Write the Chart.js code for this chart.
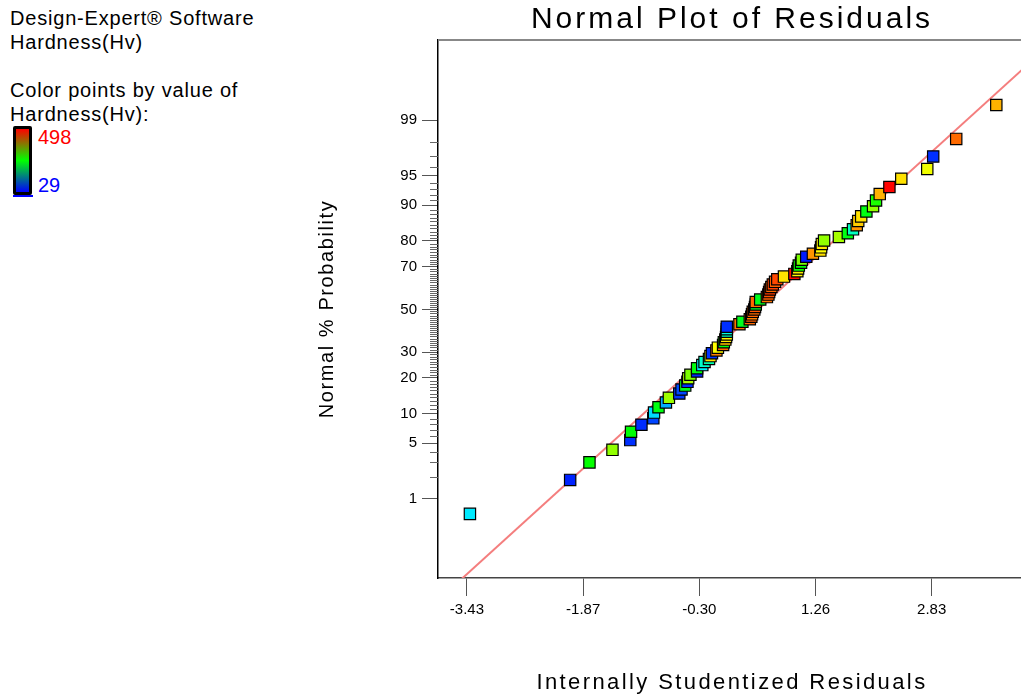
<!DOCTYPE html>
<html>
<head>
<meta charset="utf-8">
<title>Normal Plot of Residuals</title>
<script src="https://cdn.jsdelivr.net/npm/chart.js"></script>
<style>
  body { margin: 0; background: #fff; overflow: hidden; width: 1021px; height: 694px; position: relative; }
  #chart { position: absolute; left: 0; top: 0; }
  .info { position: absolute; left: 10px; top: 6px; font: 20px "Liberation Sans", Arial, sans-serif; line-height: 24px; letter-spacing: 0.8px; color: #000; }
  .bar { position: absolute; left: 13px; top: 126px; width: 13px; height: 63px; border: 3px solid #000; border-radius: 2px;
         background: linear-gradient(to bottom, #ff0000, #00ff00, #0000ff); }
  .barline { position: absolute; left: 13px; top: 195px; width: 20px; height: 2px; background: #0000ff; }
  .hi, .lo { position: absolute; left: 38px; font: 20px "Liberation Sans", Arial, sans-serif; line-height: 20px; }
  .hi { top: 127px; color: #ff0000; }
  .lo { top: 175px; color: #0000ff; }
</style>
</head>
<body>
<div class="info">Design-Expert® Software<br>Hardness(Hv)<br><br>Color points by value of<br>Hardness(Hv):</div>
<div class="bar"></div>
<div class="barline"></div>
<div class="hi">498</div>
<div class="lo">29</div>
<canvas id="chart" width="1040" height="694"></canvas>
<script>
// internally studentized residuals, sorted
const residuals = [
  -3.39, -2.04, -1.78, -1.47, -1.23, -1.22, -1.08, -0.92, -0.91, -0.85,
  -0.75, -0.71, -0.57, -0.54, -0.49, -0.46, -0.45, -0.42, -0.33, -0.33,
  -0.26, -0.23, -0.17, -0.15, -0.13, -0.07, -0.05, 0.02, 0.03, 0.05,
  0.06, 0.07, 0.07, 0.07, 0.07, 0.24, 0.28, 0.38, 0.40, 0.41,
  0.42, 0.44, 0.45, 0.46, 0.46, 0.52, 0.61, 0.63, 0.64, 0.65,
  0.67, 0.69, 0.72, 0.75, 0.84, 0.98, 1.02, 1.03, 1.04, 1.07,
  1.08, 1.14, 1.23, 1.33, 1.34, 1.35, 1.38, 1.58, 1.70, 1.77,
  1.82, 1.84, 1.88, 1.95, 2.04, 2.08, 2.13, 2.26, 2.42, 2.77,
  2.85, 3.16, 3.70
];
// normal % probability of each residual
const probability = [
  0.60, 1.81, 3.01, 4.22, 5.42, 6.63, 7.83, 9.04, 10.24, 11.45,
  12.65, 13.86, 15.06, 16.27, 17.47, 18.67, 19.88, 21.08, 22.29, 23.49,
  24.70, 25.90, 27.11, 28.31, 29.52, 30.72, 31.93, 33.13, 34.34, 35.54,
  36.75, 37.95, 39.16, 40.36, 41.57, 42.77, 43.98, 45.18, 46.39, 47.59,
  48.80, 50.00, 51.20, 52.41, 53.61, 54.82, 56.02, 57.23, 58.43, 59.64,
  60.84, 62.05, 63.25, 64.46, 65.66, 66.87, 68.07, 69.28, 70.48, 71.69,
  72.89, 74.10, 75.30, 76.51, 77.71, 78.92, 80.12, 81.33, 82.53, 83.73,
  84.94, 86.14, 87.35, 88.55, 89.76, 90.96, 92.17, 93.37, 94.58, 95.78,
  96.99, 98.19, 99.40
];
// hardness (Hv) of each run, used for the point colour
const hardness = [
  136, 45, 265, 330, 50, 262, 48, 60, 130, 255,
  110, 335, 55, 62, 250, 50, 340, 320, 47, 258,
  140, 170, 185, 395, 52, 440, 380, 450, 260, 410,
  390, 385, 180, 160, 50, 445, 250, 450, 455, 440,
  452, 448, 458, 245, 450, 250, 446, 455, 460, 470,
  452, 468, 455, 465, 395, 495, 385, 390, 270, 262,
  320, 40, 430, 395, 380, 390, 330, 340, 255, 175,
  430, 405, 395, 255, 330, 275, 415, 497, 395, 375,
  50, 450, 415
];
const hardMin = 29, hardMax = 498;

// reference line end points
const refLineX = [-3.82, 4.10];
const refLineProb = [0.0175, 99.86];

const xTickValues = [-3.43, -1.865, -0.30, 1.265, 2.83];
const xTickLabels = ['-3.43', '-1.87', '-0.30', '1.26', '2.83'];
const yTickProbs = [1, 5, 10, 20, 30, 50, 70, 80, 90, 95, 99];

// inverse normal cdf (Acklam)
function probit(p) {
  const a = [-39.69683028665376, 220.9460984245205, -275.9285104469687, 138.3577518672690, -30.66479806614716, 2.506628277459239];
  const b = [-54.47609879822406, 161.5858368580409, -155.6989798598866, 66.80131188771972, -13.28068155288572];
  const c = [-0.007784894002430293, -0.3223964580411365, -2.400758277161838, -2.549732539343734, 4.374664141464968, 2.938163982698783];
  const d = [0.007784695709041462, 0.3224671290700398, 2.445134137142996, 3.754408661907416];
  const pl = 0.02425;
  let q, r;
  if (p < pl) {
    q = Math.sqrt(-2 * Math.log(p));
    return (((((c[0]*q+c[1])*q+c[2])*q+c[3])*q+c[4])*q+c[5]) / ((((d[0]*q+d[1])*q+d[2])*q+d[3])*q+1);
  }
  if (p > 1 - pl) {
    q = Math.sqrt(-2 * Math.log(1 - p));
    return -(((((c[0]*q+c[1])*q+c[2])*q+c[3])*q+c[4])*q+c[5]) / ((((d[0]*q+d[1])*q+d[2])*q+d[3])*q+1);
  }
  q = p - 0.5; r = q * q;
  return (((((a[0]*r+a[1])*r+a[2])*r+a[3])*r+a[4])*r+a[5])*q / (((((b[0]*r+b[1])*r+b[2])*r+b[3])*r+b[4])*r+1);
}

function hardnessColor(h) {
  const t = (h - hardMin) / (hardMax - hardMin);
  return 'hsl(' + Math.round(240 * (1 - t)) + ',100%,50%)';
}

const points = residuals.map((x, i) => ({ x: x, y: probit(probability[i] / 100) }));
const refLine = refLineX.map((x, i) => ({ x: x, y: probit(refLineProb[i] / 100) }));

// wrap a draw method so its text gets letter spacing
function spaced(obj, method, spacing) {
  if (!obj || obj[method].__spaced) return;
  const orig = obj[method];
  const wrapped = function (...args) {
    this.ctx.save();
    this.ctx.letterSpacing = spacing;
    orig.apply(this, args);
    this.ctx.restore();
  };
  wrapped.__spaced = true;
  obj[method] = wrapped;
}

const extras = {
  id: 'extras',
  afterLayout(chart) {
    spaced(chart.scales.x, 'drawTitle', '2.4px');
    spaced(chart.scales.y, 'drawTitle', '1.6px');
    spaced(chart.titleBlock, 'draw', '3px');
  },
  afterDraw(chart) {
    const { ctx, chartArea, scales } = chart;
    ctx.save();
    // top frame line
    ctx.strokeStyle = '#888';
    ctx.lineWidth = 2;
    ctx.beginPath();
    ctx.moveTo(chartArea.left, chartArea.top);
    ctx.lineTo(chartArea.right, chartArea.top);
    ctx.stroke();
    // minor ticks at every whole percent
    ctx.strokeStyle = '#666';
    ctx.lineWidth = 1;
    ctx.beginPath();
    for (let p = 1; p <= 99; p++) {
      if (yTickProbs.includes(p)) continue;
      const y = Math.round(scales.y.getPixelForValue(probit(p / 100))) + 0.5;
      ctx.moveTo(chartArea.left - 8, y);
      ctx.lineTo(chartArea.left, y);
    }
    ctx.stroke();
    ctx.restore();
  }
};

const font = '"Liberation Sans", Arial, sans-serif';

new Chart(document.getElementById('chart'), {
  type: 'scatter',
  data: {
    datasets: [
      {
        data: points,
        order: 0,
        pointStyle: 'rect',
        pointRadius: 8,
        pointHoverRadius: 8,
        backgroundColor: hardness.map(hardnessColor),
        borderColor: '#000',
        borderWidth: 1.2
      },
      {
        data: refLine,
        order: 1,
        showLine: true,
        pointRadius: 0,
        borderColor: '#f47e7e',
        borderWidth: 2
      }
    ]
  },
  options: {
    responsive: false,
    animation: false,
    devicePixelRatio: 1,
    layout: { padding: { left: 300, right: 14, top: 0, bottom: 0 } },
    plugins: {
      legend: { display: false },
      tooltip: { enabled: false },
      title: {
        display: true,
        fullSize: false,
        text: 'Normal Plot of Residuals',
        color: '#000',
        font: { family: font, size: 30, weight: 'normal', lineHeight: 1.2 },
        padding: { top: 2, bottom: 2 }
      }
    },
    scales: {
      x: {
        type: 'linear',
        min: -3.82,
        max: 4.10,
        afterFit: (s) => { s.height = 116; },
        afterBuildTicks: (s) => { s.ticks = xTickValues.map(v => ({ value: v })); },
        ticks: {
          autoSkip: false,
          maxRotation: 0,
          padding: 5,
          color: '#000',
          font: { family: font, size: 15 },
          callback: (v, i) => xTickLabels[i]
        },
        grid: { drawOnChartArea: false, drawTicks: true, tickLength: 18, tickColor: '#555', tickWidth: 1 },
        border: { color: '#444', width: 1.5 },
        title: {
          display: true,
          text: 'Internally Studentized Residuals',
          color: '#000',
          font: { family: font, size: 22, lineHeight: 1 },
          padding: { top: 0, bottom: 0 }
        }
      },
      y: {
        type: 'linear',
        min: -3.30,
        max: 3.31,
        afterFit: (s) => { s.width = 138; },
        afterBuildTicks: (s) => { s.ticks = yTickProbs.map(p => ({ value: probit(p / 100) })); },
        ticks: {
          autoSkip: false,
          padding: 5,
          color: '#000',
          font: { family: font, size: 15 },
          callback: (v, i) => String(yTickProbs[i])
        },
        grid: { drawOnChartArea: false, drawTicks: true, tickLength: 16, tickColor: '#555', tickWidth: 1 },
        border: { color: '#000', width: 1.5 },
        title: {
          display: true,
          text: 'Normal % Probability',
          color: '#000',
          font: { family: font, size: 20, lineHeight: 1 },
          padding: { top: 17, bottom: 0 }
        }
      }
    }
  },
  plugins: [extras]
});
</script>
</body>
</html>
